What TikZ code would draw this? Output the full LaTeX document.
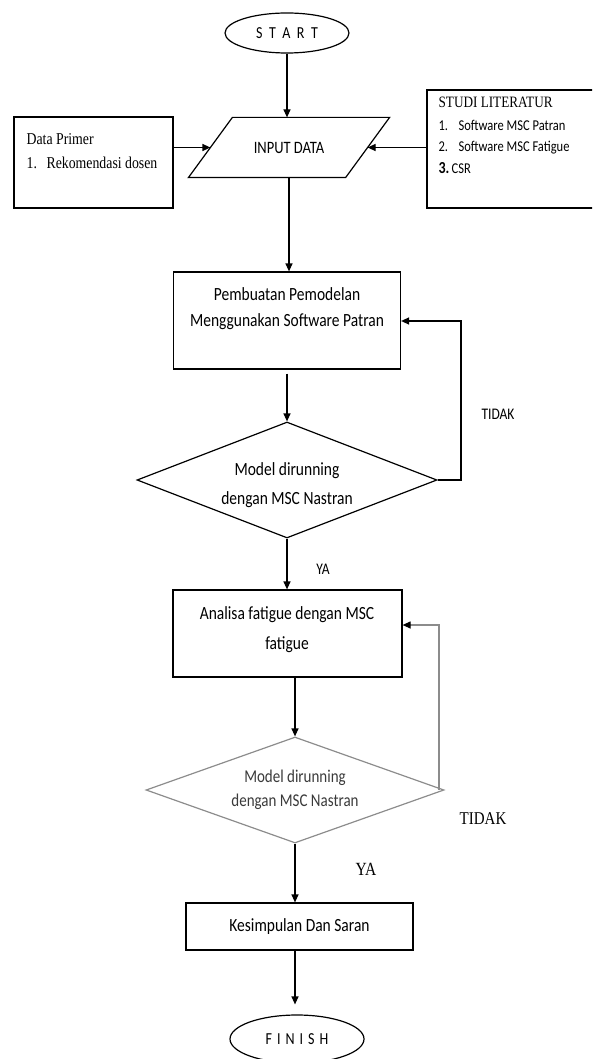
\documentclass[tikz,border=0pt]{standalone}
\usepackage{fontspec}
\setmainfont{Carlito}
\newfontfamily\tnr{Liberation Serif}
\usetikzlibrary{shapes.geometric,arrows.meta}
\definecolor{lgray}{HTML}{8C8C8C}
\definecolor{dgray}{HTML}{3A3A3A}
\newcommand\vs[1]{\scalebox{1}[1.2]{#1}}
\newcommand\vsc[1]{\scalebox{1}[1.2]{\begin{tabular}{@{}c@{}}#1\end{tabular}}}
\newcommand\vsl[1]{\scalebox{1}[1.2]{\begin{tabular}{@{}l@{}}#1\end{tabular}}}
\begin{document}
\begin{tikzpicture}[x=1pt,y=-1pt,line width=1.2pt,
  arr/.style={-{Triangle[length=8pt,width=7pt]}},
  garr/.style={lgray,-{Triangle[length=8pt,width=7pt,color=black]}},
  box/.style={draw,rectangle,inner sep=0pt},
  term/.style={draw,ellipse,inner sep=0pt,font=\fontsize{14}{16}\selectfont},
  dec/.style={draw,diamond,inner sep=0pt,aspect=2.6},
  txt/.style={inner sep=0pt,align=center},
  lbl/.style={inner sep=0pt,font=\fontsize{13.5}{16}\selectfont}]
\useasboundingbox (0,0) rectangle (592,1059);
\clip (0,0) rectangle (592,1059);
% terminals
\node[term,minimum width=124pt,minimum height=40pt] (start) at (287,33) {\vs{\spaceskip=6.5pt S T A R T}};
\node[term,minimum width=134pt,minimum height=48pt] (finish) at (297,1039) {\raisebox{-3pt}{\vs{\spaceskip=5pt F I N I S H}}};
% input parallelogram
\node[inner sep=0pt,minimum width=156pt,minimum height=59pt,font=\fontsize{14.5}{16}\selectfont] (input) at (289,147.5) {\vs{INPUT DATA}};
\draw ([xshift=22pt]input.north west) -- ([xshift=22pt]input.north east)
  -- ([xshift=-22pt]input.south east) -- ([xshift=-22pt]input.south west) -- cycle;
% side boxes
\node[box,minimum width=159pt,minimum height=91pt] (dp) at (93.5,162.5) {};
\node[inner sep=0pt,anchor=west,font=\tnr\fontsize{13.8}{20}\selectfont] (dpt) at (26,152)
  {\vsl{Data Primer\\\makebox[20pt][l]{1.}Rekomendasi dosen}};
\node[box,minimum width=183pt,minimum height=118pt] (sl) at (518.5,149) {};
\node[inner sep=0pt,anchor=west,font=\tnr\fontsize{13.2}{16}\selectfont] (slh) at (438,102) {\vs{STUDI LITERATUR}};
\node[inner sep=0pt,anchor=west,font=\fontsize{12.5}{17.9}\selectfont] (slt) at (438,147.5)
  {\vsl{\makebox[20pt][l]{1.}Software MSC Patran\\\makebox[20pt][l]{2.}Software MSC Fatigue\\\makebox[13pt][l]{\bfseries\fontsize{14}{17.9}\selectfont 3.}CSR}};
% process boxes
\node[box,minimum width=227pt,minimum height=97pt] (b1) at (287,320.5) {};
\node[txt,font=\fontsize{15.5}{21.7}\selectfont] (b1t) at (287,308) {\vsc{Pembuatan Pemodelan\\Menggunakan Software Patran}};
\node[dec,minimum width=300pt,minimum height=116pt] (d1) at (287,480) {};
\node[txt,font=\fontsize{15.5}{24.2}\selectfont] (d1t) at (287,484.5) {\vsc{Model dirunning\\dengan MSC Nastran}};
\node[box,minimum width=229pt,minimum height=87pt] (b2) at (287.5,633.5) {};
\node[txt,font=\fontsize{15.5}{25}\selectfont] (b2t) at (287,628) {\vsc{Analisa fatigue dengan MSC\\fatigue}};
\node[dec,draw=lgray,minimum width=298pt,minimum height=106pt] (d2) at (295,790) {};
\node[txt,text=dgray,font=\fontsize{15}{20.8}\selectfont] (d2t) at (295,789.5) {\vsc{Model dirunning\\dengan MSC Nastran}};
\node[box,minimum width=227pt,minimum height=47pt,font=\fontsize{15.5}{18}\selectfont] (b3) at (299.5,926.5) {\vs{Kesimpulan Dan Saran}};
% labels
\node[lbl] (t1) at (498,414) {\vs{TIDAK}};
\node[lbl] (y1) at (323,569) {\vs{YA}};
\node[inner sep=0pt,font=\tnr\fontsize{15}{18}\selectfont] (t2) at (483,819) {\vs{TIDAK}};
\node[inner sep=0pt,font=\tnr\fontsize{15.5}{18}\selectfont] (y2) at (366,869) {\vs{YA}};
% loop coordinates
\coordinate (l1) at (461,321);
\coordinate (l2) at (439,625);
% connectors
\draw[arr] (start.south) -- (start.south |- input.north);
\draw[arr] (dp.east |- input) -- (input.west);
\draw[arr] (sl.west |- input) -- (input.east);
\draw[arr] (input.south) -- (input.south |- b1.north);
\draw[arr,shorten <=4pt] (b1.south) -- (b1.south |- d1.north);
\draw[arr] (d1.east) -| (l1) -- (b1.east |- l1);
\draw[arr] (d1.south) -- (d1.south |- b2.north);
\draw[arr] (b2.south -| d2.north) -- (d2.north);
\draw[garr] (l2 |- d2.east) -- (l2) -- (b2.east |- l2);
\draw[arr] (d2.south) -- (d2.south |- b3.north);
\draw[arr,shorten >=10pt] (d2.south |- b3.south) -- (d2.south |- finish.north);
\end{tikzpicture}
\end{document}
